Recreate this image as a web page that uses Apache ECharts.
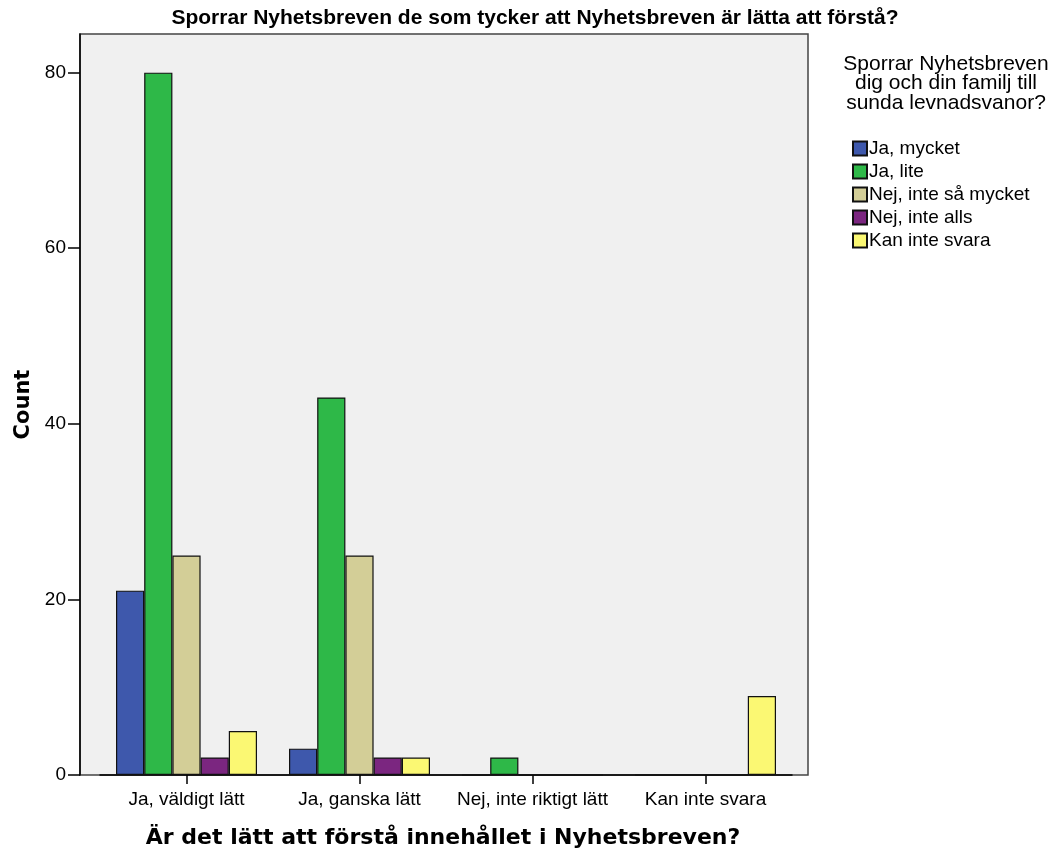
<!DOCTYPE html>
<html><head><meta charset="utf-8">
<script src="https://cdn.jsdelivr.net/npm/echarts@6/dist/echarts.min.js"></script>
<style>html,body{margin:0;padding:0;background:#fff}#c{width:1058px;height:856px}</style>
</head><body><div id="c"></div>
<script>
const categories = ['Ja, väldigt lätt', 'Ja, ganska lätt', 'Nej, inte riktigt lätt', 'Kan inte svara'];
const seriesNames = ['Ja, mycket', 'Ja, lite', 'Nej, inte så mycket', 'Nej, inte alls', 'Kan inte svara'];
const jaMycket = [21, 3, 0, 0];
const jaLite = [80, 43, 2, 0];
const nejInteSaMycket = [25, 25, 0, 0];
const nejInteAlls = [2, 2, 0, 0];
const kanInteSvara = [5, 2, 0, 9];
const yTicks = [0, 20, 40, 60, 80];
const colors = ['#3E58AC', '#2EB848', '#D3CE97', '#7B2680', '#FBF873'];

const seriesData = [jaMycket, jaLite, nejInteSaMycket, nejInteAlls, kanInteSvara];
const font = 'Arial, "Liberation Sans", sans-serif';
const boldFont = '"DejaVu Sans", sans-serif';
const chart = echarts.init(document.getElementById('c'));
chart.setOption({
  animation: false,
  title: [
    { text: 'Sporrar Nyhetsbreven de som tycker att Nyhetsbreven är lätta att förstå?', left: 530, textAlign: 'center', top: 3,
      textStyle: { fontFamily: font, fontSize: 21, fontWeight: 'bold', color: '#000' } },
    { text: 'Sporrar Nyhetsbreven\ndig och din familj till\nsunda levnadsvanor?', left: 941, textAlign: 'center', top: 49,
      textStyle: { fontFamily: font, fontSize: 21, fontWeight: 'normal', color: '#000', lineHeight: 19.5 } }
  ],
  legend: {
    orient: 'vertical', left: 847, top: 134, itemWidth: 14, itemHeight: 14, itemGap: 4,
    icon: 'rect', data: seriesNames,
    textStyle: { fontFamily: font, fontSize: 19, color: '#000', lineHeight: 19, padding: [0, 0, 0, -3] }
  },
  graphic: [{
    type: 'rect', z: -10, silent: true,
    shape: { x: 80, y: 34, width: 728, height: 741 },
    style: { fill: '#F0F0F0', stroke: '#444', lineWidth: 1.5 }
  }],
  grid: { left: 100, right: 266, top: 34, bottom: 81 },
  xAxis: {
    type: 'category', data: categories,
    name: 'Är det lätt att förstå innehållet i Nyhetsbreven?', nameLocation: 'middle', nameGap: 52,
    nameTextStyle: { fontFamily: boldFont, fontSize: 22, fontWeight: 'bold', color: '#000', padding: [0, 0, 0, -6] },
    axisLine: { show: true, lineStyle: { color: '#000', width: 1.5 } },
    axisTick: { show: true, alignWithLabel: true, interval: 0, length: 9, lineStyle: { color: '#000', width: 1.5 } },
    axisLabel: { fontFamily: font, fontSize: 19, color: '#000', margin: 15, interval: 0, hideOverlap: false },
    splitLine: { show: false }
  },
  yAxis: {
    type: 'value', min: 0, max: 84.4, interval: 20, offset: 20,
    name: 'Count', nameLocation: 'middle', nameGap: 45, nameRotate: 90,
    nameTextStyle: { fontFamily: boldFont, fontSize: 21, fontWeight: 'bold', color: '#000' },
    axisLine: { show: true, lineStyle: { color: '#000', width: 1.5 } },
    axisTick: { show: true, length: 12, customValues: yTicks, lineStyle: { color: '#000', width: 1.5 } },
    axisLabel: { fontFamily: font, fontSize: 19, color: '#000', margin: 14, customValues: yTicks },
    splitLine: { show: false }
  },
  series: seriesNames.map((n, i) => ({
    name: n, type: 'bar', data: seriesData[i], barWidth: 28.2, barGap: '0%',
    itemStyle: { color: colors[i], borderColor: '#111', borderWidth: 1.2 }
  }))
});
</script></body></html>
